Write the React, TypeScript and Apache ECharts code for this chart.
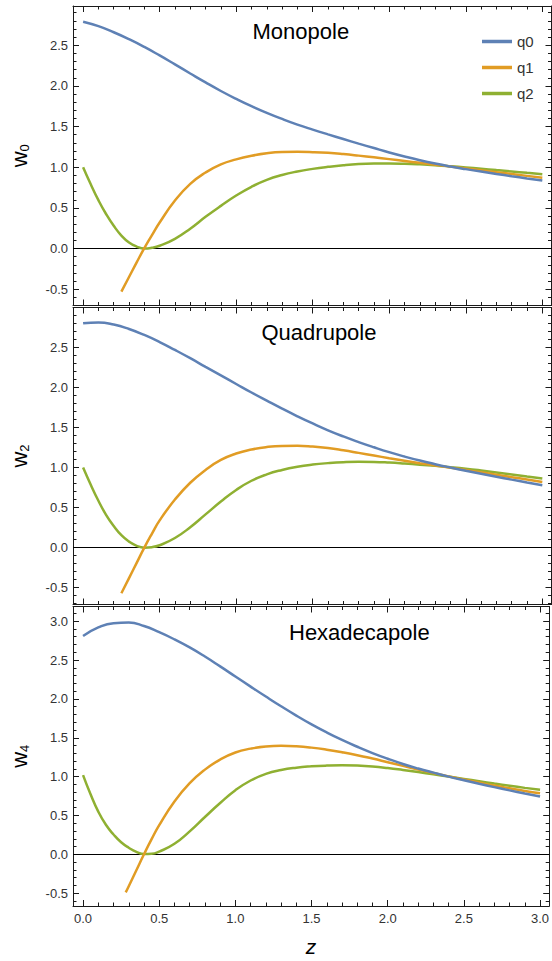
import React, { useEffect, useRef } from 'react';
import * as echarts from 'echarts';

// ---------- data ----------
const Z_Q0 = [0, 0.1, 0.2, 0.3, 0.4, 0.5, 0.6, 0.7, 0.8, 0.9, 1.0, 1.1, 1.2, 1.3, 1.4, 1.5, 1.6, 1.7, 1.8, 1.9, 2.0, 2.1, 2.2, 2.3, 2.4, 2.5, 2.6, 2.7, 2.8, 2.9, 3.0];
const Z_Q1 = [0.25, 0.3, 0.35, 0.4, 0.45, 0.5, 0.6, 0.7, 0.8, 0.9, 1.0, 1.1, 1.2, 1.3, 1.4, 1.5, 1.6, 1.7, 1.8, 1.9, 2.0, 2.1, 2.2, 2.3, 2.4, 2.5, 2.6, 2.7, 2.8, 2.9, 3.0];
const Z_Q1_HEX = [0.28, 0.3, 0.35, 0.4, 0.45, 0.5, 0.6, 0.7, 0.8, 0.9, 1.0, 1.1, 1.2, 1.3, 1.4, 1.5, 1.6, 1.7, 1.8, 1.9, 2.0, 2.1, 2.2, 2.3, 2.4, 2.5, 2.6, 2.7, 2.8, 2.9, 3.0];
const Z_Q2 = [0, 0.05, 0.1, 0.15, 0.2, 0.25, 0.3, 0.35, 0.4, 0.45, 0.5, 0.6, 0.7, 0.8, 0.9, 1.0, 1.1, 1.2, 1.3, 1.4, 1.5, 1.6, 1.7, 1.8, 1.9, 2.0, 2.1, 2.2, 2.3, 2.4, 2.5, 2.6, 2.7, 2.8, 2.9, 3.0];

// Monopole (w0)
const MONO_Q0 = [2.79, 2.735, 2.66, 2.575, 2.48, 2.375, 2.265, 2.153, 2.043, 1.938, 1.841, 1.751, 1.669, 1.594, 1.525, 1.463, 1.404, 1.347, 1.291, 1.236, 1.182, 1.132, 1.086, 1.045, 1.009, 0.977, 0.947, 0.918, 0.89, 0.863, 0.836];
const MONO_Q1 = [-0.53, -0.35, -0.17, 0.005, 0.165, 0.32, 0.59, 0.795, 0.935, 1.035, 1.097, 1.142, 1.172, 1.187, 1.19, 1.186, 1.177, 1.162, 1.143, 1.122, 1.1, 1.077, 1.054, 1.031, 1.009, 0.986, 0.963, 0.94, 0.917, 0.894, 0.871];
const MONO_Q2 = [1.0, 0.79, 0.595, 0.425, 0.28, 0.16, 0.075, 0.025, 0.0, 0.01, 0.035, 0.12, 0.245, 0.39, 0.525, 0.652, 0.76, 0.845, 0.905, 0.948, 0.98, 1.005, 1.025, 1.039, 1.045, 1.046, 1.043, 1.036, 1.026, 1.013, 0.998, 0.982, 0.965, 0.948, 0.931, 0.914];

// Quadrupole (w2)
const QUAD_Q0 = [2.8, 2.81, 2.785, 2.73, 2.655, 2.567, 2.468, 2.365, 2.257, 2.15, 2.043, 1.937, 1.835, 1.735, 1.64, 1.55, 1.465, 1.388, 1.318, 1.253, 1.192, 1.137, 1.087, 1.042, 1.0, 0.96, 0.922, 0.885, 0.849, 0.814, 0.78];
const QUAD_Q1 = [-0.57, -0.38, -0.19, 0.0, 0.175, 0.34, 0.6, 0.81, 0.97, 1.095, 1.175, 1.225, 1.256, 1.27, 1.272, 1.262, 1.243, 1.215, 1.183, 1.15, 1.116, 1.084, 1.054, 1.026, 0.998, 0.97, 0.94, 0.91, 0.88, 0.85, 0.82];
const QUAD_Q2 = [1.0, 0.785, 0.585, 0.41, 0.27, 0.155, 0.075, 0.022, 0.0, 0.006, 0.03, 0.12, 0.255, 0.415, 0.575, 0.72, 0.835, 0.915, 0.97, 1.01, 1.037, 1.055, 1.067, 1.072, 1.07, 1.062, 1.05, 1.036, 1.021, 1.004, 0.985, 0.963, 0.939, 0.914, 0.888, 0.862];

// Hexadecapole (w4)
const HEX_Q0 = [2.81, 2.92, 2.975, 2.982, 2.938, 2.858, 2.766, 2.662, 2.545, 2.418, 2.288, 2.158, 2.03, 1.905, 1.785, 1.672, 1.568, 1.472, 1.384, 1.303, 1.23, 1.163, 1.104, 1.051, 1.0, 0.953, 0.908, 0.865, 0.823, 0.782, 0.743];
const HEX_Q1 = [-0.49, -0.41, -0.205, 0.0, 0.195, 0.375, 0.68, 0.915, 1.09, 1.22, 1.31, 1.36, 1.388, 1.396, 1.39, 1.373, 1.347, 1.314, 1.276, 1.232, 1.185, 1.138, 1.092, 1.047, 1.003, 0.962, 0.923, 0.885, 0.85, 0.816, 0.785];
const HEX_Q2 = [1.02, 0.77, 0.55, 0.38, 0.255, 0.155, 0.085, 0.032, 0.003, 0.006, 0.035, 0.135, 0.295, 0.48, 0.66, 0.825, 0.95, 1.035, 1.085, 1.115, 1.132, 1.142, 1.146, 1.142, 1.13, 1.11, 1.085, 1.058, 1.03, 1.0, 0.97, 0.94, 0.91, 0.882, 0.855, 0.83];

const SERIES_NAMES = ['q0', 'q1', 'q2'];
const PANEL_TITLES = ['Monopole', 'Quadrupole', 'Hexadecapole'];
const Y_SUBSCRIPTS = ['0', '2', '4'];
const X_TICKS = [0, 0.5, 1.0, 1.5, 2.0, 2.5, 3.0];
const Y_TICKS = [
  [-0.5, 0, 0.5, 1.0, 1.5, 2.0, 2.5],
  [-0.5, 0, 0.5, 1.0, 1.5, 2.0, 2.5],
  [-0.5, 0, 0.5, 1.0, 1.5, 2.0, 2.5, 3.0],
];
const X_LABEL = 'z';

const PANELS = [
  { x: [Z_Q0, Z_Q1, Z_Q2], y: [MONO_Q0, MONO_Q1, MONO_Q2] },
  { x: [Z_Q0, Z_Q1, Z_Q2], y: [QUAD_Q0, QUAD_Q1, QUAD_Q2] },
  { x: [Z_Q0, Z_Q1_HEX, Z_Q2], y: [HEX_Q0, HEX_Q1, HEX_Q2] },
];

// ---------- layout / style ----------
const FONT = 'Liberation Sans';
const FRAME = '#1a1a1a';
const COLORS = ['#5E81B5', '#E19C24', '#8FB032'];
const X_MIN = -0.066;
const X_MAX = 3.06;
const Y_RANGES = [
  [-0.70, 2.983],
  [-0.71, 2.998],
  [-0.665, 3.189],
];
const GRID_TOP = [6, 307.5, 606.5];
const GRID_H = [299.5, 297, 299.5];
const GRID_LEFT = 68;
const GRID_W = 483.5;
const TITLE_X = [252.5, 261.5, 289];
const TITLE_Y = [31.7, 332.4, 632.4];

function minorTicks(min: number, max: number): number[] {
  const out: number[] = [];
  for (let k = Math.ceil(min * 10 - 1e-9); k <= Math.floor(max * 10 + 1e-9); k++) {
    if (k % 5 !== 0) out.push(Math.round(k) / 10);
  }
  return out;
}

function buildOption() {
  const grid: any[] = [];
  const xAxis: any[] = [];
  const yAxis: any[] = [];
  const series: any[] = [];
  const xMinor = minorTicks(0, 3.0);

  for (let i = 0; i < 3; i++) {
    grid.push({ left: GRID_LEFT, width: GRID_W, top: GRID_TOP[i], height: GRID_H[i], containLabel: false });
    const [ymin, ymax] = Y_RANGES[i];
    const yMinor = minorTicks(ymin, ymax);

    const xBase = {
      gridIndex: i, type: 'value', min: X_MIN, max: X_MAX,
      splitLine: { show: false },
      axisLine: { show: false, onZero: false },
      axisLabel: { show: false },
      axisPointer: { show: false },
    };
    const frameLine = { show: true, onZero: false, lineStyle: { color: FRAME, width: 1 } };
    const major = (vals: number[]) => ({ show: true, inside: true, length: 6, customValues: vals, lineStyle: { color: FRAME, width: 1 } });
    const minor = (vals: number[]) => ({ show: true, inside: true, length: 3.5, customValues: vals, lineStyle: { color: FRAME, width: 1 } });

    xAxis.push({
      ...xBase, position: 'bottom', axisLine: frameLine, axisTick: major(X_TICKS),
      axisLabel: i === 2
        ? { show: true, customValues: X_TICKS, formatter: (v: number) => v.toFixed(1), margin: 6, fontSize: 13, fontFamily: FONT, color: '#333' }
        : { show: false },
      name: i === 2 ? X_LABEL : '',
      nameLocation: 'middle', nameGap: 30,
      nameTextStyle: { fontSize: 21, fontStyle: 'italic', fontFamily: FONT, color: '#000' },
    });
    xAxis.push({ ...xBase, position: 'bottom', axisTick: minor(xMinor) });
    xAxis.push({ ...xBase, position: 'top', axisLine: frameLine, axisTick: major(X_TICKS) });
    xAxis.push({ ...xBase, position: 'top', axisTick: minor(xMinor) });

    const yBase = {
      gridIndex: i, type: 'value', min: ymin, max: ymax,
      splitLine: { show: false },
      axisLine: { show: false, onZero: false },
      axisLabel: { show: false },
      axisPointer: { show: false },
    };
    yAxis.push({
      ...yBase, position: 'left', axisLine: frameLine, axisTick: major(Y_TICKS[i]),
      axisLabel: { show: true, customValues: Y_TICKS[i], formatter: (v: number) => v.toFixed(1), margin: 5, fontSize: 13, fontFamily: FONT, color: '#333' },
      name: `{w|w}{s|${Y_SUBSCRIPTS[i]}}`,
      nameLocation: 'middle', nameGap: 42, nameRotate: 90,
      nameTextStyle: {
        rich: {
          w: { fontSize: 22, fontFamily: FONT, color: '#000', lineHeight: 24 },
          s: { fontSize: 13, fontFamily: FONT, color: '#000', verticalAlign: 'bottom', lineHeight: 14 },
        },
      },
    });
    yAxis.push({ ...yBase, position: 'left', axisTick: minor(yMinor) });
    yAxis.push({ ...yBase, position: 'right', axisLine: frameLine, axisTick: major(Y_TICKS[i]) });
    yAxis.push({ ...yBase, position: 'right', axisTick: minor(yMinor) });

    const p = PANELS[i];
    for (let s = 0; s < 3; s++) {
      const xs = p.x[s];
      const ys = p.y[s];
      const data = xs.map((z, k) => [z, ys[k]]);
      const ser: any = {
        type: 'line', name: SERIES_NAMES[s],
        xAxisIndex: 4 * i, yAxisIndex: 4 * i,
        data, symbol: 'none', showSymbol: false, smooth: 0.5,
        lineStyle: { color: COLORS[s], width: 2.5 },
        itemStyle: { color: COLORS[s] },
        z: 3 + (2 - s),
      };
      if (s === 0) {
        ser.markLine = {
          silent: true, symbol: ['none', 'none'], label: { show: false },
          lineStyle: { color: '#000', width: 1, type: 'solid' },
          emphasis: { disabled: true },
          data: [{ yAxis: 0 }],
          z: 1,
        };
      }
      series.push(ser);
    }
  }

  const graphic = PANEL_TITLES.map((t, i) => ({
    type: 'text', x: TITLE_X[i], y: TITLE_Y[i],
    style: { text: t, fontSize: 22, fontFamily: FONT, fill: '#000', align: 'left', verticalAlign: 'middle' },
  }));

  return {
    animation: false,
    backgroundColor: '#fff',
    grid, xAxis, yAxis, series, graphic,
    legend: {
      data: SERIES_NAMES,
      orient: 'vertical',
      left: 477, top: 29,
      icon: 'rect',
      itemWidth: 30, itemHeight: 3.5, itemGap: 11,
      textStyle: { fontSize: 15, fontFamily: FONT, color: '#333' },
      selectedMode: false,
    },
  };
}

export default function App() {
  const ref = useRef<HTMLDivElement>(null);
  useEffect(() => {
    if (!ref.current) return;
    const chart = echarts.init(ref.current, undefined, { renderer: 'svg' });
    chart.setOption(buildOption() as any);
    return () => chart.dispose();
  }, []);
  return <div ref={ref} style={{ position: 'absolute', left: 0, top: 0, width: 552, height: 961, background: '#fff' }} />;
}
